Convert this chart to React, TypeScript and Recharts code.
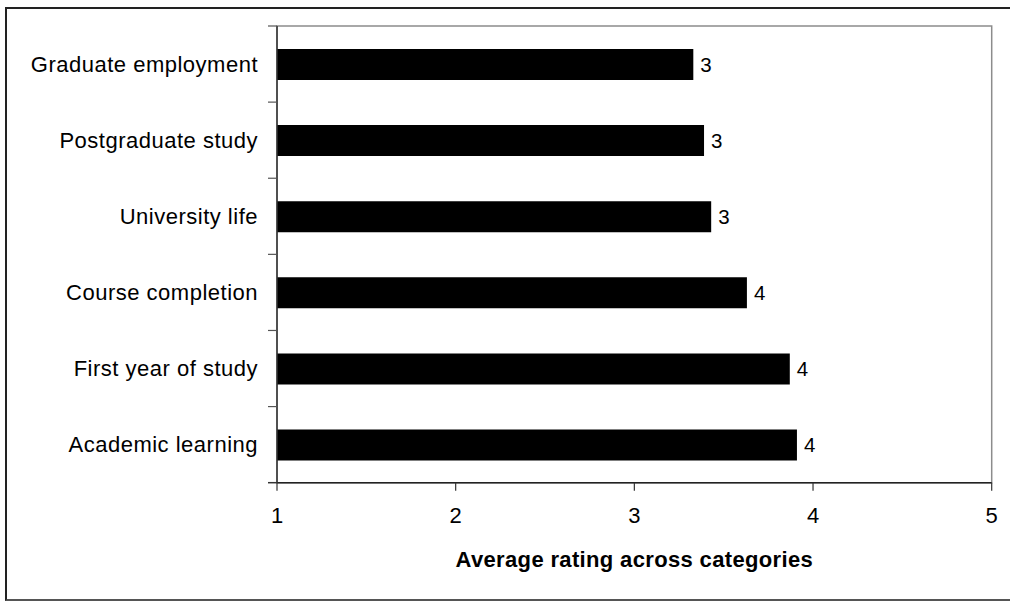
import React from 'react';
import { BarChart, Bar, XAxis, YAxis, LabelList, ReferenceArea } from 'recharts';

const categories = [
    'Graduate employment',
    'Postgraduate study',
    'University life',
    'Course completion',
    'First year of study',
    'Academic learning',
];
const ratings = [3.33, 3.39, 3.43, 3.63, 3.87, 3.91];
const xTicks = [1, 2, 3, 4, 5];

const data = categories.map((name, i) => ({ name, rating: ratings[i] }));

const FONT = '"Liberation Sans", Arial, sans-serif';
const PLOT_TOP = 26;
const PLOT_BOTTOM = 482.7;
const BAND = (PLOT_BOTTOM - PLOT_TOP) / categories.length;

// category label plus Excel-style tick marks between the bands
const CategoryTick = (props: any) => {
    const { x, y, payload, index } = props;
    const half = payload && payload.offset ? payload.offset : BAND / 2;
    const axisX = x + 19;
    return (
        <g>
            <line x1={axisX - 9} x2={axisX} y1={y - half} y2={y - half} stroke="#555" strokeWidth={1.2} />
            {index === categories.length - 1 && (
                <line x1={axisX - 9} x2={axisX} y1={y + half} y2={y + half} stroke="#333" strokeWidth={1.5} />
            )}
            <text x={x} y={y} dy="0.35em" textAnchor="end" fontSize={22} fontFamily={FONT} fill="#000" letterSpacing={0.5}>
                {payload.value}
            </text>
        </g>
    );
};

export default function App() {
    return (
        <div style={{ position: 'absolute', left: 0, top: 0, width: 1010, height: 602, overflow: 'hidden', background: '#fff' }}>
            <div
                style={{
                    position: 'absolute',
                    left: 5,
                    top: 7,
                    width: 1030,
                    height: 594,
                    border: '2px solid #222',
                    borderBottomColor: '#555',
                    boxSizing: 'border-box',
                }}
            />
            <div style={{ position: 'absolute', left: 0, top: 0 }}>
                <BarChart
                    width={1010}
                    height={602}
                    data={data}
                    layout="vertical"
                    margin={{ top: PLOT_TOP, right: 18.3, left: 0, bottom: 0 }}
                    barCategoryGap={0}
                >
                    <ReferenceArea x1={1} x2={5} stroke="#8c8c8c" strokeWidth={1.5} fill="none" fillOpacity={0} ifOverflow="visible" />
                    <XAxis
                        type="number"
                        domain={[1, 5]}
                        ticks={xTicks}
                        height={602 - PLOT_BOTTOM}
                        tickSize={8}
                        tickMargin={17}
                        axisLine={{ stroke: '#222', strokeWidth: 1.5 }}
                        tickLine={{ stroke: '#333', strokeWidth: 1.2 }}
                        tick={{ fontSize: 22, fontFamily: FONT, fill: '#000' }}
                        label={{
                            value: 'Average rating across categories',
                            position: 'insideBottom',
                            offset: 35,
                            fontSize: 22,
                            fontWeight: 'bold',
                            fontFamily: FONT,
                            fill: '#000',
                            letterSpacing: 0.35,
                        }}
                    />
                    <YAxis
                        type="category"
                        dataKey="name"
                        width={277}
                        tickSize={9}
                        tickMargin={10}
                        tickLine={false}
                        axisLine={{ stroke: '#333', strokeWidth: 1.5 }}
                        tick={<CategoryTick />}
                        interval={0}
                    />
                    <Bar dataKey="rating" fill="#000" barSize={31} isAnimationActive={false}>
                        <LabelList
                            dataKey="rating"
                            position="right"
                            offset={7}
                            formatter={(v: any) => Math.round(Number(v))}
                            style={{ fontSize: 20.5, fontFamily: FONT, fill: '#000' }}
                        />
                    </Bar>
                </BarChart>
            </div>
        </div>
    );
}
